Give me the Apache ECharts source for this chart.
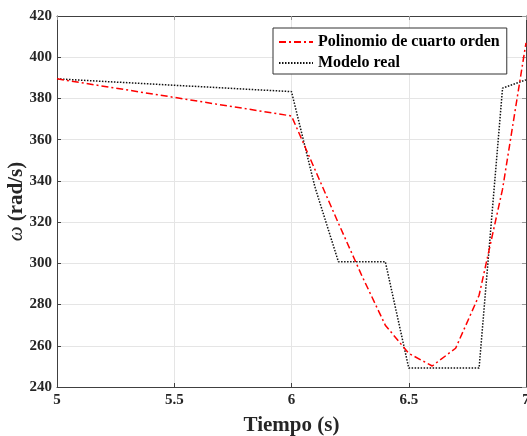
<!DOCTYPE html>
<html>
<head>
<meta charset="utf-8">
<script src="https://cdn.jsdelivr.net/npm/echarts@6/dist/echarts.min.js"></script>
<style>
  html, body { margin: 0; padding: 0; background: #fff; }
  #chart { width: 527px; height: 436px; }
</style>
</head>
<body>
<div id="chart"></div>
<script>
var chart = echarts.init(document.getElementById('chart'))

// tiempo (s)
var tiempo = [5, 6, 6.1, 6.2, 6.3, 6.4, 6.5, 6.6, 6.7, 6.8, 6.9, 7]
// omega (rad/s)
var polinomio = [389.5, 371.5, 345.5, 319.5, 294, 270, 256.3, 250.2, 258.8, 284.5, 336, 407]
var modelo = [389.5, 383.3, 337, 300.8, 300.8, 300.8, 249.2, 249.2, 249.2, 249.2, 385, 389]
var nombres = ['Polinomio de cuarto orden', 'Modelo real']

function pares(ys) {
  return tiempo.map(function (t, i) { return [t, ys[i]] })
}

var fuente = 'Liberation Serif'
var gris = '#404040'

var option = {
  animation: false,
  grid: { left: 57, right: 1, top: 16, bottom: 49, containLabel: false, outerBoundsMode: 'none' },
  legend: {
    orient: 'vertical',
    left: 273,
    top: 28,
    padding: [5, 7, 2, 5],
    itemWidth: 34,
    itemHeight: 14,
    itemGap: 3,
    borderColor: '#333',
    borderWidth: 1,
    borderRadius: 0,
    backgroundColor: '#fff',
    itemStyle: { opacity: 0 },
    textStyle: { fontFamily: fuente, fontWeight: 'bold', fontSize: 16, lineHeight: 18, color: '#000' },
    data: nombres
  },
  xAxis: [{
    type: 'value',
    min: 5, max: 7, interval: 0.5,
    name: 'Tiempo (s)',
    nameLocation: 'middle',
    nameGap: 28,
    nameMoveOverlap: false,
    nameTextStyle: { fontFamily: fuente, fontWeight: 'bold', fontSize: 21, color: '#262626' },
    axisLine: { show: true, lineStyle: { color: gris, width: 1 } },
    axisTick: { inside: true, length: 4, lineStyle: { color: gris } },
    axisLabel: { fontFamily: fuente, fontWeight: 'bold', fontSize: 15, color: '#262626', margin: 6, hideOverlap: false },
    splitLine: { show: true, lineStyle: { color: '#e5e5e5', width: 1 } }
  }, {
    type: 'value',
    position: 'top',
    min: 5, max: 7, interval: 0.5,
    axisLine: { show: true, lineStyle: { color: gris, width: 1 } },
    axisTick: { inside: true, length: 4, lineStyle: { color: '#999' } },
    axisLabel: { show: false },
    splitLine: { show: false }
  }],
  yAxis: [{
    type: 'value',
    min: 240, max: 420, interval: 20,
    name: '{w|ω} (rad/s)',
    nameLocation: 'middle',
    nameRotate: 90,
    nameGap: 30,
    nameMoveOverlap: false,
    nameTextStyle: {
      fontFamily: fuente, fontWeight: 'bold', fontSize: 21, color: '#262626',
      rich: { w: { fontFamily: fuente, fontStyle: 'italic', fontWeight: 'normal', fontSize: 21, color: '#262626' } }
    },
    axisLine: { show: true, lineStyle: { color: gris, width: 1 } },
    axisTick: { inside: true, length: 4, lineStyle: { color: gris } },
    axisLabel: { fontFamily: fuente, fontWeight: 'bold', fontSize: 15, color: '#262626', margin: 5 },
    splitLine: { show: true, lineStyle: { color: '#e5e5e5', width: 1 } }
  }, {
    type: 'value',
    position: 'right',
    min: 240, max: 420, interval: 20,
    axisLine: { show: true, lineStyle: { color: gris, width: 1 } },
    axisTick: { inside: true, length: 4, lineStyle: { color: '#999' } },
    axisLabel: { show: false },
    splitLine: { show: false }
  }],
  series: [{
    name: nombres[0],
    type: 'line',
    symbol: 'none',
    z: 3,
    lineStyle: { color: '#ff0000', width: 1.5, type: [7, 3, 2, 3] },
    itemStyle: { color: '#ff0000' },
    data: pares(polinomio)
  }, {
    name: nombres[1],
    type: 'line',
    symbol: 'none',
    z: 2,
    lineStyle: { color: '#111', width: 1.5, type: [1.5, 1.5] },
    itemStyle: { color: '#111' },
    data: pares(modelo)
  }]
}
chart.setOption(option)
</script>
</body>
</html>
